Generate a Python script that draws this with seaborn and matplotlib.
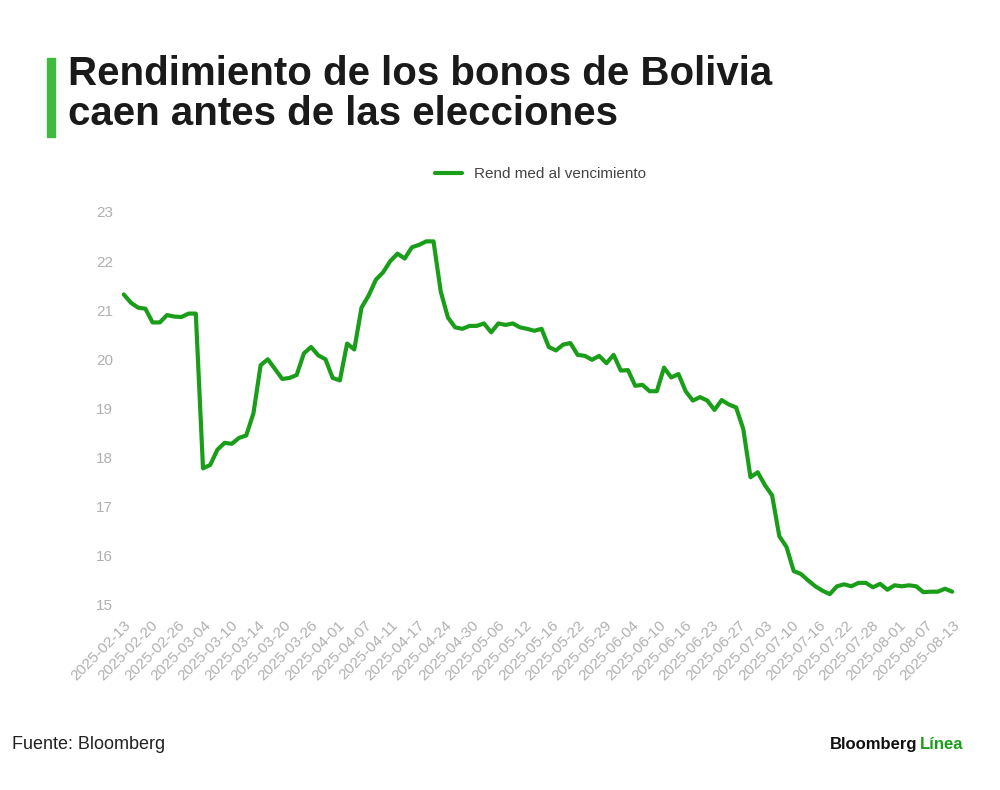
import numpy as np
import pandas as pd
import matplotlib.pyplot as plt
import seaborn as sns

# Rendimiento medio al vencimiento
rend = [21.32, 21.15, 21.05, 21.03, 20.75, 20.75, 20.90, 20.87, 20.86, 20.93, 20.93,
        17.78, 17.85, 18.16, 18.30, 18.28, 18.40, 18.45, 18.90, 19.88, 20.00, 19.80,
        19.60, 19.62, 19.68, 20.12, 20.25, 20.08, 20.00, 19.62, 19.57, 20.32, 20.20,
        21.05, 21.30, 21.62, 21.77, 22.00, 22.15, 22.05, 22.28, 22.33, 22.40, 22.40,
        21.38, 20.85, 20.65, 20.62, 20.68, 20.68, 20.73, 20.55, 20.73, 20.70, 20.73,
        20.65, 20.62, 20.58, 20.62, 20.25, 20.18, 20.30, 20.33, 20.09, 20.07, 19.99,
        20.07, 19.92, 20.09, 19.77, 19.78, 19.46, 19.48, 19.35, 19.35, 19.83, 19.63,
        19.70, 19.35, 19.16, 19.23, 19.16, 18.97, 19.17, 19.08, 19.02, 18.58, 17.60,
        17.70, 17.44, 17.23, 16.40, 16.18, 15.69, 15.63, 15.50, 15.38, 15.29, 15.22,
        15.38, 15.42, 15.38, 15.45, 15.45, 15.36, 15.43, 15.31, 15.40, 15.38, 15.40,
        15.38, 15.26, 15.27, 15.27, 15.33, 15.27]

tick_labels = ['2025-02-13', '2025-02-20', '2025-02-26', '2025-03-04', '2025-03-10',
               '2025-03-14', '2025-03-20', '2025-03-26', '2025-04-01', '2025-04-07',
               '2025-04-11', '2025-04-17', '2025-04-24', '2025-04-30', '2025-05-06',
               '2025-05-12', '2025-05-16', '2025-05-22', '2025-05-29', '2025-06-04',
               '2025-06-10', '2025-06-16', '2025-06-23', '2025-06-27', '2025-07-03',
               '2025-07-10', '2025-07-16', '2025-07-22', '2025-07-28', '2025-08-01',
               '2025-08-07', '2025-08-13']

GREEN = '#1a9e1a'
GREY = '#b0b0b0'

df = pd.DataFrame({'idx': np.arange(len(rend)), 'rend': rend})

sns.set_theme(style='white')
plt.rcParams['font.family'] = ['Liberation Sans', 'DejaVu Sans']

fig = plt.figure(figsize=(10, 7.9), dpi=100)
ax = fig.add_axes([0.118, 0.228, 0.845, 0.51])

sns.lineplot(data=df, x='idx', y='rend', ax=ax, color=GREEN, linewidth=3,
             label='Rend med al vencimiento')

ax.set_ylim(14.9, 23.1)
ax.set_yticks(range(15, 24))
ax.set_xlim(-0.8, len(rend) + 0.5)
ax.set_xticks(np.linspace(0, len(rend) - 1, len(tick_labels)))
ax.set_xticklabels(tick_labels, rotation=45, ha='right', rotation_mode='anchor')
ax.tick_params(axis='both', colors=GREY, labelsize=11, length=0)
ax.tick_params(axis='x', pad=6)
ax.set_xlabel('')
ax.set_ylabel('')
sns.despine(ax=ax, left=True, bottom=True)

leg = ax.legend(loc='lower center', bbox_to_anchor=(0.5, 1.03), frameon=False,
                fontsize=11, handlelength=1.8)
for t in leg.get_texts():
    t.set_color('#444444')

# Título
fig.patches.append(plt.Rectangle((0.047, 0.827), 0.008, 0.1, color='#3fb93f',
                                 transform=fig.transFigure))
fig.text(0.068, 0.93, 'Rendimiento de los bonos de Bolivia\ncaen antes de las elecciones',
         fontsize=29, fontweight='bold', color='#1a1a1a', va='top', linespacing=1.05)

# Pie
fig.text(0.012, 0.052, 'Fuente: Bloomberg', fontsize=13, color='#222222')
fig.text(0.83, 0.052, 'Bloomberg', fontsize=12, fontweight='bold', color='#111111')
fig.text(0.92, 0.052, 'Línea', fontsize=12, fontweight='bold', color=GREEN)

fig.savefig('out.png', dpi=100, facecolor='white')
